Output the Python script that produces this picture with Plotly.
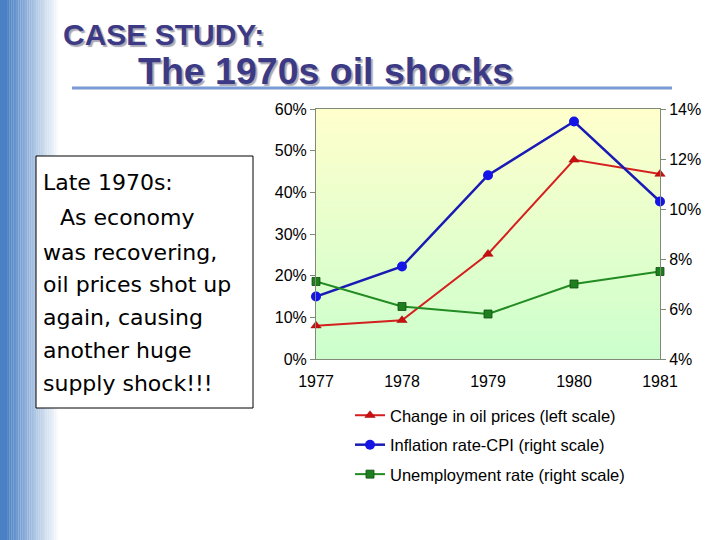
import plotly.graph_objects as go

# ---- data ----
years = [1977, 1978, 1979, 1980, 1981]
oil_change = [8.0, 9.3, 25.2, 47.8, 44.4]        # left scale, %
inflation_cpi = [6.5, 7.7, 11.35, 13.5, 10.3]    # right scale, %
unemployment = [7.1, 6.1, 5.8, 7.0, 7.5]         # right scale, %
left_ticks = [0, 10, 20, 30, 40, 50, 60]
right_ticks = [4, 6, 8, 10, 12, 14]
series_names = ["Change in oil prices (left scale)",
                "Inflation rate-CPI (right scale)",
                "Unemployment rate (right scale)"]
box_lines = ["Late 1970s:", "As economy", "was recovering,", "oil prices shot up",
             "again, causing", "another huge", "supply shock!!!"]

W, H = 720, 540
def px(x):
    return x / W
def py(y):
    return 1 - y / H

fig = go.Figure()

fig.add_trace(go.Scatter(
    x=years, y=oil_change, name=series_names[0], mode="lines+markers",
    line=dict(color="#D42020", width=2),
    marker=dict(symbol="triangle-up", size=9, color="#C81010", line=dict(color="#A00000", width=0.5)),
    yaxis="y", cliponaxis=False, legendgroup="a"))
fig.add_trace(go.Scatter(
    x=years, y=inflation_cpi, name=series_names[1], mode="lines+markers",
    line=dict(color="#1A1AB4", width=2.5),
    marker=dict(symbol="circle", size=10, color="#1414E6"),
    yaxis="y2", cliponaxis=False, legendgroup="b"))
fig.add_trace(go.Scatter(
    x=years, y=unemployment, name=series_names[2], mode="lines+markers",
    line=dict(color="#228B22", width=2),
    marker=dict(symbol="square", size=8, color="#1F7F1F", line=dict(color="#0F4F0F", width=0.8)),
    yaxis="y2", cliponaxis=False, legendgroup="c"))

shapes = []
# slide left gradient bar
c0 = (74, 128, 196)
n = 30
for i in range(n):
    t = i / (n - 1)
    r = int(c0[0] + (255 - c0[0]) * t)
    g = int(c0[1] + (255 - c0[1]) * t)
    b = int(c0[2] + (255 - c0[2]) * t)
    x0 = 6 + i * 1.8
    shapes.append(dict(type="rect", xref="paper", yref="paper",
                       x0=px(x0), x1=px(x0 + 1.9), y0=0, y1=1,
                       fillcolor=f"rgb({r},{g},{b})", line=dict(width=0), layer="below"))
shapes.append(dict(type="rect", xref="paper", yref="paper", x0=0, x1=px(6.5), y0=0, y1=1,
                   fillcolor="rgb(74,128,196)", line=dict(width=0), layer="below"))
# plot area gradient (light green bottom -> light yellow top)
m = 60
for i in range(m):
    t = i / (m - 1)
    r = int(204 + (255 - 204) * t)
    shapes.append(dict(type="rect", xref="x domain", yref="y domain",
                       x0=0, x1=1, y0=i / m, y1=(i + 1) / m + 0.002,
                       fillcolor=f"rgb({r},255,204)", line=dict(width=0), layer="below"))
# title underline
shapes.append(dict(type="line", xref="paper", yref="paper",
                   x0=px(72), x1=px(672), y0=py(88), y1=py(88),
                   line=dict(color="#7B9BD4", width=3)))
# text box
shapes.append(dict(type="rect", xref="paper", yref="paper",
                   x0=px(36), x1=px(253), y0=py(408), y1=py(156),
                   fillcolor="white", line=dict(color="black", width=1)))

annotations = []
title_color = "#3C3A85"
for (txt, x, y, size) in [("CASE STUDY:", 61, 35, 30), ("The 1970s oil shocks", 136, 71, 37.5)]:
    annotations.append(dict(text=f"<b>{txt}</b>", x=px(x), y=py(y), xref="paper", yref="paper",
                            xanchor="left", yanchor="middle", showarrow=False,
                            font=dict(family="Liberation Sans, Arial", size=size, color=title_color,
                                      shadow="2px 2px 1px #A8A8B8")))

line_y = [182, 218, 252, 284, 317, 350, 383]
line_x = [41, 58, 41, 41, 41, 41, 41]
for txt, x, y in zip(box_lines, line_x, line_y):
    annotations.append(dict(text=txt, x=px(x), y=py(y), xref="paper", yref="paper",
                            xanchor="left", yanchor="middle", showarrow=False,
                            font=dict(family="DejaVu Sans", size=22, color="black")))

axis_font = dict(family="Liberation Sans, Arial", size=16, color="black")
fig.update_layout(
    width=W, height=H,
    margin=dict(l=0, r=0, t=0, b=0, pad=0, autoexpand=False),
    paper_bgcolor="white", plot_bgcolor="rgba(0,0,0,0)",
    shapes=shapes, annotations=annotations,
    showlegend=True,
    legend=dict(x=px(350), y=py(398), xanchor="left", yanchor="top",
                font=dict(family="Liberation Sans, Arial", size=16.5, color="black"),
                bgcolor="rgba(0,0,0,0)", itemwidth=30, tracegroupgap=5,
                traceorder="grouped"),
    xaxis=dict(domain=[px(316), px(660)], range=[1977, 1981],
               tickvals=years, ticktext=[str(y) for y in years],
               showgrid=False, zeroline=False, showline=True, mirror=True,
               linecolor="#7F8A78", linewidth=1, ticks="", tickfont=axis_font,
               ticklabelstandoff=8),
    yaxis=dict(domain=[py(359), py(109)], range=[0, 60], tickvals=left_ticks,
               ticktext=[f"{v}%" for v in left_ticks],
               showgrid=False, zeroline=False, showline=True, mirror=True,
               linecolor="#7F8A78", linewidth=1, ticks="outside", ticklen=5,
               tickcolor="#7F8A78", tickfont=axis_font),
    yaxis2=dict(overlaying="y", side="right", range=[4, 14], tickvals=right_ticks,
                ticktext=[f"{v}%" for v in right_ticks],
                showgrid=False, zeroline=False, showline=False,
                ticks="outside", ticklen=5, tickcolor="#7F8A78", tickfont=axis_font),
)

fig.write_html("out.html", config={"displayModeBar": False},
               post_script="document.body.style.margin='0px';")
